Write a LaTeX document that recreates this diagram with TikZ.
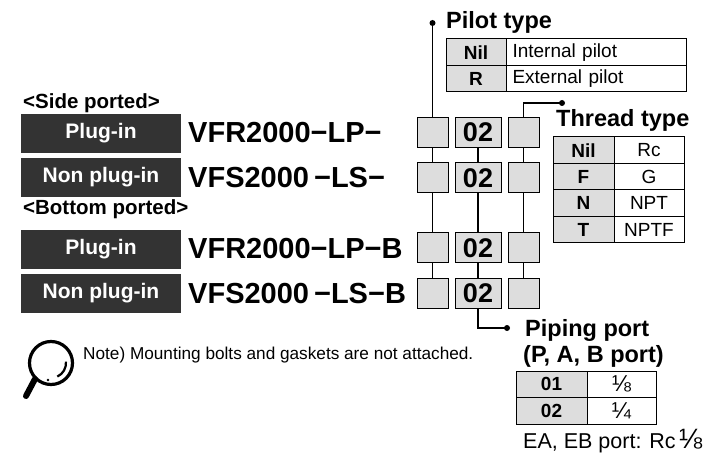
\documentclass[tikz,border=0pt]{standalone}
\usepackage{fontspec}
\setmainfont{Liberation Sans}
\newcommand\fs[1]{\fontsize{#1}{#1}\selectfont}
\definecolor{boxdark}{HTML}{333333}
\definecolor{cellgray}{HTML}{DDDDDD}
\begin{document}
\begin{tikzpicture}[x=1pt,y=-1pt,
  darkbox/.style={fill=boxdark, text=white, font=\fs{21}\bfseries, minimum width=160, minimum height=39, inner sep=0},
  grp/.style={anchor=base west, font=\fs{20.5}\bfseries, inner sep=0},
  model/.style={anchor=base west, font=\fs{29}\bfseries, inner sep=0},
  sbox/.style={draw=black, line width=1, fill=cellgray, minimum height=30, inner sep=0, font=\fs{27}\bfseries},
  sboxa/.style={sbox, minimum width=31},
  sboxb/.style={sbox, minimum width=46},
  head/.style={anchor=base west, font=\fs{23.5}\bfseries, inner sep=0},
  cell/.style={draw=black, line width=1, minimum height=26.5, inner sep=0},
  cellL/.style={cell, fill=cellgray, font=\fs{19}\bfseries},
  cellR/.style={cell, fill=white, font=\fs{19}},
  conn/.style={line width=1.5},
  dot/.style={circle, fill=black, inner sep=0, minimum size=6}
]
\useasboundingbox (0,0) rectangle (704,454);

% left labels
\node[grp] (side) at (23,109) {<Side ported>};
\node[grp] (bottom) at (23,215) {<Bottom ported>};
\node[darkbox] (d1) at (101,133.5) {Plug-in};
\node[darkbox] (d2) at (101,177.5) {Non plug-in};
\node[darkbox] (d3) at (101,249.5) {Plug-in};
\node[darkbox] (d4) at (101,293.5) {Non plug-in};

\node[model] (m1) at (188,143) {VFR2000−LP−};
\node[model] (m2) at (188,188) {VFS2000\kern5pt−LS−};
\node[model] (m3) at (188,259) {VFR2000−LP−B};
\node[model] (m4) at (188,304) {VFS2000\kern5pt−LS−B};

% connector ends
\coordinate (pdot) at (432.5,23);
\coordinate (tcorner) at (523.5,103);
\coordinate (tdot) at (562,103);
\coordinate (pcorner) at (478,328);
\coordinate (ppdot) at (507,328);

% small boxes (named first for connectors)
\path
  node[sboxa] (a1) at (432.5,132.5) {}
  node[sboxb] (b1) at (478,132.5) {02}
  node[sboxa] (c1) at (523.5,132.5) {}
  node[sboxa] (a2) at (432.5,178) {}
  node[sboxb] (b2) at (478,178) {02}
  node[sboxa] (c2) at (523.5,178) {}
  node[sboxa] (a3) at (432.5,248) {}
  node[sboxb] (b3) at (478,248) {02}
  node[sboxa] (c3) at (523.5,248) {}
  node[sboxa] (a4) at (432.5,293.5) {}
  node[sboxb] (b4) at (478,293.5) {02}
  node[sboxa] (c4) at (523.5,293.5) {};

% connectors
\draw[conn] (pdot) -- (a1.north);
\draw[conn] (a1) -- (a2) (a2) -- (a3) (a3) -- (a4);
\draw[conn] (b1) -- (b2) (b2) -- (b3) (b3) -- (b4);
\draw[conn] (b4.south) -- (pcorner) -- (ppdot);
\draw[conn] (tdot) -- (tcorner) -- (c1.north);
\draw[conn] (c1) -- (c2) (c2) -- (c3) (c3) -- (c4);
\node[dot] at (pdot) {};
\node[dot] at (tdot) {};
\node[dot] at (ppdot) {};

% redraw boxes on top
\foreach \r/\y in {1/132.5,2/178,3/248,4/293.5}{
  \node[sboxa] at (432.5,\y) {};
  \node[sboxb] at (478,\y) {02};
  \node[sboxa] at (523.5,\y) {};
}

% Pilot type
\node[head] (pilothead) at (446,29) {Pilot type};
\node[cellL, minimum width=60] (pl1) at (476,52.25) {Nil};
\node[cellR, minimum width=180, text width=167, align=left, inner xsep=6.5] (pr1) at (596,52.25) {Internal pilot};
\node[cellL, minimum width=60] (pl2) at (476,78.75) {R};
\node[cellR, minimum width=180, text width=167, align=left, inner xsep=6.5] (pr2) at (596,78.75) {External pilot};

% Thread type
\node[head] (threadhead) at (556,127) {Thread type};
\node[cellL, minimum width=61] (tl1) at (583.5,150.25) {Nil};
\node[cellR, minimum width=70] (tr1) at (649,150.25) {Rc};
\node[cellL, minimum width=61] (tl2) at (583.5,176.75) {F};
\node[cellR, minimum width=70] (tr2) at (649,176.75) {G};
\node[cellL, minimum width=61] (tl3) at (583.5,203.25) {N};
\node[cellR, minimum width=70] (tr3) at (649,203.25) {NPT};
\node[cellL, minimum width=61] (tl4) at (583.5,229.75) {T};
\node[cellR, minimum width=70] (tr4) at (649,229.75) {NPTF};

% Piping port
\node[head] (pipehead) at (525,337) {Piping port};
\node[head] (pipehead2) at (523,362) {(P, A, B port)};
\node[cellL, minimum width=71] (ql1) at (551.5,384.25) {01};
\node[cellR, minimum width=69, font=\fs{23}] (qr1) at (621.5,384.25) {⅛};
\node[cellL, minimum width=71] (ql2) at (551.5,410.75) {02};
\node[cellR, minimum width=69, font=\fs{23}] (qr2) at (621.5,410.75) {¼};

\node[anchor=base west, font=\fs{21.5}, inner sep=0] (ea) at (523,448) {EA, EB port: Rc\kern3pt{\fs{28}⅛}};

% note
\node[anchor=base west, font=\fs{17.2}, inner sep=0] (note) at (83,359) {Note) Mounting bolts and gaskets are not attached.};
\draw[line width=3.2] (51,363) circle[radius=21.5];
\draw[line width=2.2] (51,363) ++(-5:15) arc[start angle=-5, end angle=65, radius=15];
\fill (48,380) circle[radius=1.3];
\draw[line width=6, line cap=round] (35,379) -- (26,396);
\end{tikzpicture}
\end{document}
